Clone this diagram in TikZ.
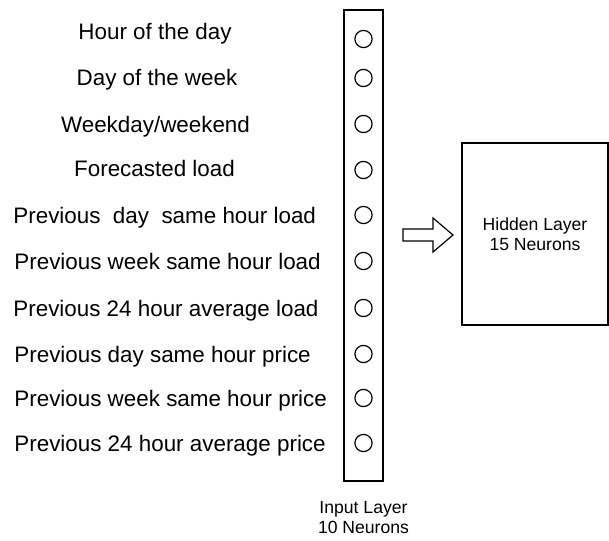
\documentclass[tikz,border=0pt]{standalone}
\usepackage{fontspec}
\setmainfont{Liberation Sans}
\usetikzlibrary{positioning}

\tikzset{
  layer/.style={draw, line width=0.7pt, inner sep=0pt},
  neuron/.style={draw, circle, line width=0.6pt, minimum size=8.6pt, inner sep=0pt},
  feat/.style={font=\fontsize{11.2}{13}\selectfont, inner sep=0pt, text height=8pt, text depth=0pt},
  capt/.style={font=\fontsize{8.8}{10}\selectfont, align=center, inner sep=0pt}
}

\begin{document}
\begin{tikzpicture}[x=0.5pt,y=-0.5pt]
\useasboundingbox (0,0) rectangle (609,540);

% Input layer
\node[layer, minimum width=19.5pt, minimum height=235.5pt] (in) at (363.5,245.5) {};
\foreach \i/\y in {1/39,2/78,3/124,4/170,5/215,6/261,7/308,8/354,9/398,10/443}
  \node[neuron] (n\i) at (363.5,\y) {};
\node[capt] (incap) at (363.5,518) {Input Layer\\10 Neurons};

% Features
\node[feat] (f1) at (155,32) {Hour of the day};
\node[feat] (f2) at (157,78) {Day of the week};
\node[feat] (f3) at (155.5,124) {Weekday/weekend};
\node[feat] (f4) at (154.5,168) {Forecasted load};
\node[feat, anchor=west] (f5) at (13,215) {Previous\ \ day\ \ same hour load};
\node[feat, anchor=west] (f6) at (14,261) {Previous week same hour load};
\node[feat, anchor=west] (f7) at (13,308) {Previous 24 hour average load};
\node[feat, anchor=west] (f8) at (14,354) {Previous day same hour price};
\node[feat, anchor=west] (f9) at (14,398) {Previous week same hour price};
\node[feat, anchor=west] (f10) at (14,443) {Previous 24 hour average price};

% Hidden layer
\node[layer, capt, minimum width=73pt, minimum height=91pt] (hid) at (535,234) {Hidden Layer\\15 Neurons};

% Arrow
\coordinate (arr) at (403,235);
\draw[line width=0.6pt] (arr) ++(0,-6) -- ++(30,0) -- ++(0,-11) -- ++(20,17)
  -- ++(-20,17) -- ++(0,-11) -- ++(-30,0) -- cycle;
\end{tikzpicture}
\end{document}
